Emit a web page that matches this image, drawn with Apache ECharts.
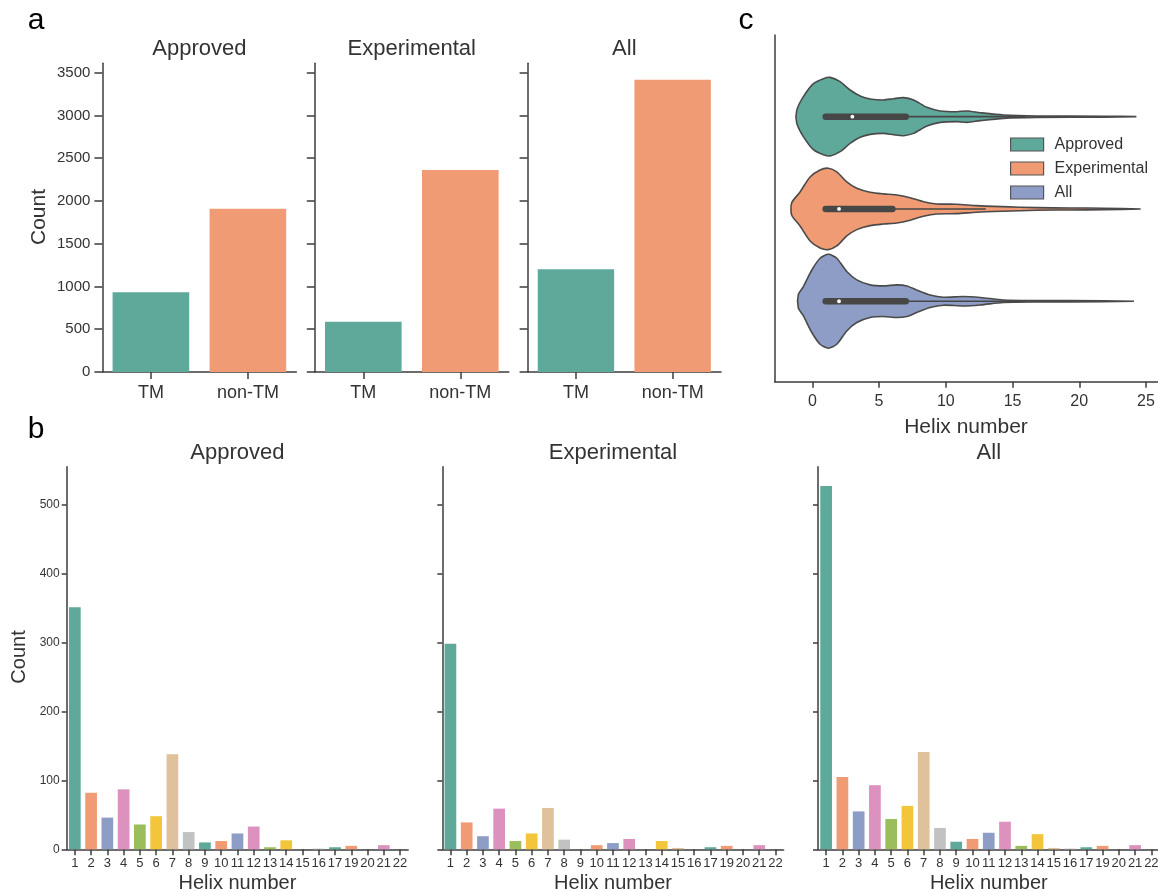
<!DOCTYPE html>
<html><head><meta charset="utf-8">
<script src="https://cdn.jsdelivr.net/npm/echarts@6/dist/echarts.min.js"></script>
<style>html,body{margin:0;padding:0;background:#fff}#c{width:1158px;height:892px}</style>
</head><body><div id="c"></div>
<script>
// ---------- data ----------
const groupNames = ['Approved', 'Experimental', 'All'];
const tmCategories = ['TM', 'non-TM'];
const tmApproved = [933, 1908];
const tmExperimental = [589, 2361];
const tmAll = [1202, 3418];
const countTicksA = [0, 500, 1000, 1500, 2000, 2500, 3000, 3500];

const helixCategories = ['1','2','3','4','5','6','7','8','9','10','11','12','13','14','15','16','17','19','20','21','22'];
const helixApproved =     [351, 82, 46, 87, 36, 48, 138, 25, 10, 12, 23, 33, 3, 13, 0, 1, 3, 5, 0, 6, 0];
const helixExperimental = [298, 39, 19, 59, 12, 23, 60, 14, 0, 6, 9, 15, 0, 12, 2, 0, 3, 5, 0, 6, 0];
const helixAll =          [527, 105, 55, 93, 44, 63, 141, 31, 11, 15, 24, 40, 5, 22, 2, 1, 3, 5, 0, 6, 0];
const countTicksB = [0, 100, 200, 300, 400, 500];

// violin outlines (helix number, half width in category units)
const violinApprovedX = [-1.17, -0.67, 0.08, 0.83, 1.33, 2.08, 2.83, 3.58, 4.33, 5.33, 6.08, 6.83, 7.58, 8.58, 9.58, 10.83, 11.58, 12.58, 14.33, 16.83, 21.83, 24.28];
const violinApprovedW = [0.068, 0.217, 0.358, 0.412, 0.426, 0.379, 0.289, 0.224, 0.192, 0.181, 0.195, 0.206, 0.181, 0.101, 0.062, 0.054, 0.062, 0.043, 0.018, 0.008, 0.005, 0];
const violinExperimentalX = [-1.55, -0.92, -0.17, 0.58, 1.2, 1.83, 2.58, 3.33, 4.33, 5.33, 6.33, 7.33, 8.32, 9.32, 10.8, 12.3, 14.3, 16.8, 19.3, 21.8, 24.6];
const violinExperimentalW = [0.065, 0.184, 0.347, 0.423, 0.441, 0.401, 0.293, 0.224, 0.181, 0.163, 0.152, 0.122, 0.079, 0.054, 0.051, 0.036, 0.025, 0.014, 0.011, 0.008, 0];
const violinAllX = [-1.05, -0.67, -0.05, 0.58, 1.2, 1.83, 2.58, 3.33, 4.33, 5.33, 6.33, 7.08, 7.82, 8.82, 9.82, 11.3, 12.6, 14.3, 16.8, 21.8, 24.1];
const violinAllW = [0.073, 0.159, 0.336, 0.466, 0.509, 0.466, 0.322, 0.231, 0.177, 0.166, 0.177, 0.166, 0.122, 0.068, 0.043, 0.051, 0.040, 0.014, 0.008, 0.005, 0];
const boxQ1 = [1, 1, 1];
const boxQ3 = [7, 6, 7];
const boxMedian = [3, 2, 2];
const whiskerLow = [1, 1, 1];
const whiskerHigh = [16, 13, 16];
const helixTicksC = [0, 5, 10, 15, 20, 25];

// ---------- style ----------
const palette = ['#5fa99b', '#f09b73', '#8e9dc5', '#dc91be', '#9cbd5b', '#f2c53a', '#dfc19b', '#c2c2c2'];
const FONT = '"Liberation Sans", Arial, Helvetica, sans-serif';
const AX = '#3d3d3d';
const TXT = '#333';

const chart = echarts.init(document.getElementById('c'), null, {renderer: 'canvas'});

const grids = [
  {left: 102.4, top: 63.3, width: 194, height: 308.7},
  {left: 314.8, top: 63.3, width: 194, height: 308.7},
  {left: 527.6, top: 63.3, width: 193.4, height: 308.7},
  {left: 66.7, top: 466.7, width: 341.5, height: 382.6},
  {left: 442.3, top: 466.7, width: 341.3, height: 382.6},
  {left: 818, top: 466.7, width: 341.5, height: 382.6},
  {left: 774.7, top: 35, width: 383.3, height: 346.7}
].map(g => Object.assign({containLabel: false, outerBoundsMode: 'none'}, g));

const axisLine = {show: true, onZero: false, lineStyle: {color: AX, width: 1.5}};
const plain = v => String(v);

const xAxes = [], yAxes = [], series = [];
const tmData = [tmApproved, tmExperimental, tmAll];
for (let i = 0; i < 3; i++) {
  xAxes.push({gridIndex: i, type: 'category', data: tmCategories,
    axisLine: axisLine, axisTick: {show: true, alignWithLabel: true, length: 7, lineStyle: {color: AX, width: 1.5}},
    axisLabel: {fontSize: 18, color: TXT, fontFamily: FONT, margin: 12}, splitLine: {show: false}});
  yAxes.push({gridIndex: i, type: 'value', min: 0, max: 3610,
    axisLine: axisLine,
    axisTick: {show: true, length: 8, customValues: countTicksA, lineStyle: {color: AX, width: 1.5}},
    axisLabel: {show: i === 0, customValues: countTicksA, formatter: plain, fontSize: 15, color: TXT, fontFamily: FONT, margin: 12},
    splitLine: {show: false}});
  series.push({type: 'bar', xAxisIndex: i, yAxisIndex: i, barWidth: '79%',
    data: tmData[i].map((v, k) => ({value: v, itemStyle: {color: palette[k]}})),
    silent: true});
}
const helixData = [helixApproved, helixExperimental, helixAll];
for (let i = 0; i < 3; i++) {
  const gi = 3 + i;
  xAxes.push({gridIndex: gi, type: 'category', data: helixCategories,
    axisLine: axisLine, axisTick: {show: true, alignWithLabel: true, length: 6, interval: 0, lineStyle: {color: AX, width: 1.5}},
    axisLabel: {interval: 0, fontSize: 13, color: TXT, fontFamily: FONT, margin: 8}, splitLine: {show: false}});
  yAxes.push({gridIndex: gi, type: 'value', min: 0, max: 555,
    axisLine: axisLine,
    axisTick: {show: true, length: 5, customValues: countTicksB, lineStyle: {color: AX, width: 1.5}},
    axisLabel: {show: i === 0, customValues: countTicksB, formatter: plain, fontSize: 12, color: TXT, fontFamily: FONT, margin: 7},
    splitLine: {show: false}});
  series.push({type: 'bar', xAxisIndex: gi, yAxisIndex: gi, barWidth: '72%',
    data: helixData[i].map((v, k) => ({value: v, itemStyle: {color: palette[k % palette.length]}})),
    silent: true});
}
// panel c axes
xAxes.push({gridIndex: 6, type: 'value', min: -2.82, max: 25.9,
  axisLine: axisLine,
  axisTick: {show: true, length: 6, customValues: helixTicksC, lineStyle: {color: AX, width: 1.5}},
  axisLabel: {customValues: helixTicksC, formatter: plain, fontSize: 16, color: TXT, fontFamily: FONT, margin: 12},
  splitLine: {show: false}});
yAxes.push({gridIndex: 6, type: 'value', min: -0.885, max: 2.872, inverse: true,
  axisLine: axisLine, axisTick: {show: false}, axisLabel: {show: false}, splitLine: {show: false}});

const violinX = [violinApprovedX, violinExperimentalX, violinAllX];
const violinW = [violinApprovedW, violinExperimentalW, violinAllW];
for (let i = 0; i < 3; i++) {
  series.push({
    type: 'custom', name: groupNames[i], xAxisIndex: 6, yAxisIndex: 6, clip: false, silent: true,
    itemStyle: {color: palette[i]},
    data: [[boxMedian[i], i]],
    encode: {x: 0, y: 1},
    renderItem: function (params, api) {
      const idx = api.value(1);
      const xs = violinX[idx], ws = violinW[idx];
      const top = xs.map((x, k) => api.coord([x, idx - ws[k]]));
      const bot = xs.map((x, k) => api.coord([x, idx + ws[k]])).reverse();
      const b1 = api.coord([boxQ1[idx], idx]);
      const b2 = api.coord([boxQ3[idx], idx]);
      const w1 = api.coord([whiskerLow[idx], idx]);
      const w2 = api.coord([whiskerHigh[idx], idx]);
      const m = api.coord([boxMedian[idx], idx]);
      return {type: 'group', children: [
        {type: 'polygon', shape: {points: top.concat(bot), smooth: 0.25},
         style: {fill: palette[idx], stroke: '#4a4a4a', lineWidth: 1.6}},
        {type: 'line', shape: {x1: w1[0], y1: w1[1], x2: w2[0], y2: w2[1]},
         style: {stroke: '#474747', lineWidth: 1.6}},
        {type: 'line', shape: {x1: b1[0], y1: b1[1], x2: b2[0], y2: b2[1]},
         style: {stroke: '#474747', lineWidth: 6.5, lineCap: 'round'}},
        {type: 'circle', shape: {cx: m[0], cy: m[1], r: 1.9}, style: {fill: '#ffffff'}}
      ]};
    }
  });
}

function txt(text, x, y, size, color, rot) {
  return {type: 'text', x: x, y: y, rotation: rot || 0, silent: true,
    style: {text: text, fontSize: size, fontFamily: FONT, fill: color || TXT, align: 'center', verticalAlign: 'middle'}};
}
const graphics = [
  txt('a', 36, 21, 30, '#000'),
  txt('b', 36, 430, 30, '#000'),
  txt('c', 746, 21, 30, '#000'),
  txt(groupNames[0], 199.4, 49, 22),
  txt(groupNames[1], 411.8, 49, 22),
  txt(groupNames[2], 624.3, 49, 22),
  txt('Count', 39, 217, 21, TXT, Math.PI / 2),
  txt(groupNames[0], 237.4, 453, 22),
  txt(groupNames[1], 613, 453, 22),
  txt(groupNames[2], 988.8, 453, 22),
  txt('Count', 19, 657, 20, TXT, Math.PI / 2),
  txt('Helix number', 237.4, 883, 20),
  txt('Helix number', 613, 883, 20),
  txt('Helix number', 988.8, 883, 20),
  txt('Helix number', 966, 427, 21)
];

chart.setOption({
  animation: false,
  backgroundColor: '#fff',
  grid: grids,
  xAxis: xAxes,
  yAxis: yAxes,
  series: series,
  legend: {
    left: 1005, top: 131.5, orient: 'vertical', itemWidth: 33, itemHeight: 13, itemGap: 8,
    icon: 'rect', selectedMode: false,
    textStyle: {fontSize: 16, color: TXT, fontFamily: FONT, padding: [0, 0, 0, 6]},
    data: groupNames.map((n, i) => ({name: n, itemStyle: {color: palette[i], borderColor: '#555', borderWidth: 1.2}}))
  },
  graphic: graphics
});
</script></body></html>
